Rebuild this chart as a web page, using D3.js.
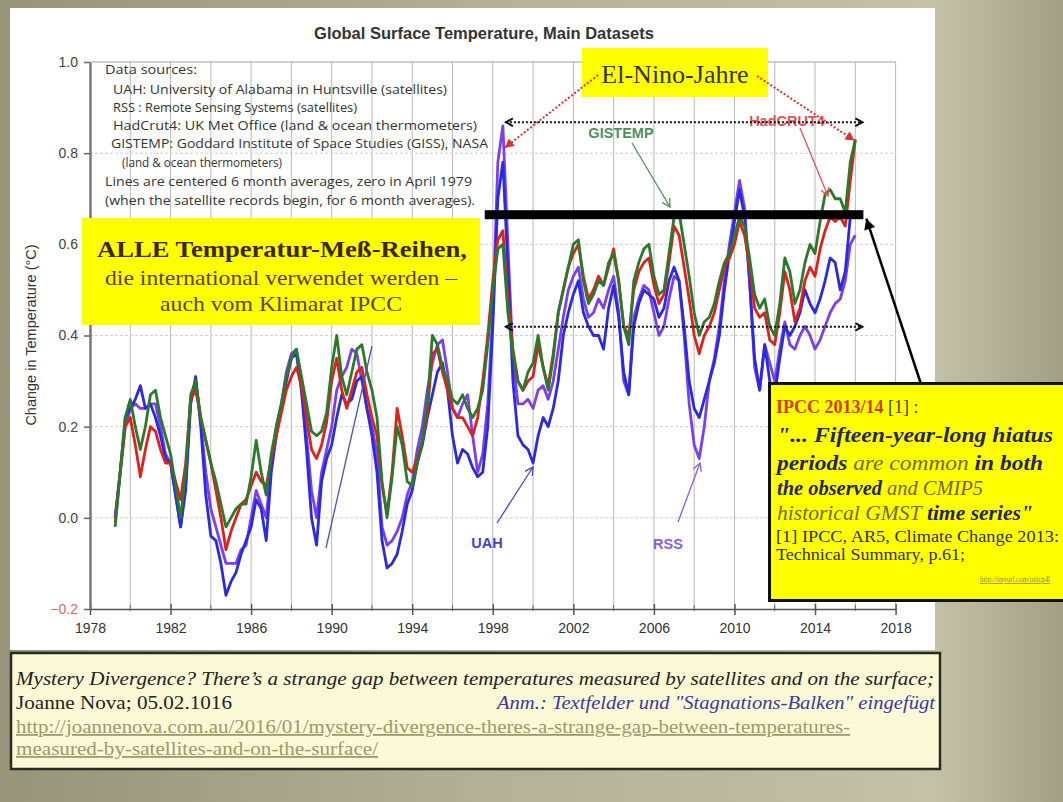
<!DOCTYPE html>
<html><head><meta charset="utf-8">
<script src="https://cdn.jsdelivr.net/npm/d3@7"></script>
<style>html,body{margin:0;padding:0;overflow:hidden;background:#a9a78b}</style>
</head><body><svg id="c" width="1063" height="802"></svg>
<script>
// ---------------- DATA ----------------
const startYear = 1979.25, stepYear = 0.25;   // centred 6-month averages, read quarterly
const gistemp = [-0.02,0.10,0.22,
 0.26,0.20,0.15,0.20, 0.27,0.28,0.22,0.18, 0.14,0.07,0.00,0.10, 0.27,0.30,0.22,0.17,
 0.12,0.08,0.03,-0.02, 0.00,0.02,0.03,0.03, 0.09,0.17,0.10,0.05, 0.14,0.20,0.25,0.31,
 0.35,0.37,0.31,0.25, 0.19,0.18,0.19,0.23, 0.33,0.40,0.31,0.27, 0.32,0.37,0.38,0.32,
 0.28,0.22,0.08,0.00, 0.09,0.20,0.16,0.08, 0.07,0.12,0.17,0.25, 0.40,0.38,0.33,0.30,
 0.26,0.25,0.27,0.24, 0.22,0.24,0.28,0.38, 0.50,0.59,0.60,0.45, 0.36,0.30,0.28,0.32,
 0.34,0.40,0.33,0.28, 0.35,0.45,0.50,0.55, 0.60,0.61,0.52,0.47, 0.49,0.52,0.51,0.56,
 0.58,0.52,0.42,0.38, 0.52,0.56,0.59,0.60, 0.53,0.49,0.50,0.58, 0.66,0.67,0.60,0.53,
 0.45,0.40,0.43,0.44, 0.47,0.52,0.56,0.58, 0.62,0.66,0.64,0.57, 0.49,0.46,0.48,0.42,
 0.40,0.47,0.57,0.54, 0.47,0.50,0.56,0.60, 0.58,0.65,0.71,0.72, 0.70,0.70,0.67,0.78,
 0.83];
const hadcrut4 = [-0.01,0.10,0.20,
 0.22,0.16,0.09,0.15, 0.20,0.19,0.15,0.12, 0.12,0.08,0.04,0.12, 0.26,0.28,0.22,0.17,
 0.12,0.06,0.00,-0.07, -0.03,0.00,0.03,0.04, 0.07,0.10,0.08,0.07, 0.13,0.18,0.23,0.28,
 0.31,0.33,0.29,0.22, 0.15,0.13,0.16,0.21, 0.30,0.35,0.28,0.24, 0.28,0.32,0.33,0.27,
 0.22,0.18,0.07,0.01, 0.10,0.24,0.18,0.11, 0.10,0.13,0.17,0.23, 0.36,0.37,0.32,0.28,
 0.24,0.22,0.22,0.20, 0.18,0.22,0.30,0.40, 0.52,0.61,0.63,0.48, 0.37,0.30,0.28,0.30,
 0.31,0.38,0.33,0.29, 0.36,0.45,0.50,0.55, 0.58,0.60,0.53,0.48, 0.50,0.53,0.51,0.55,
 0.59,0.52,0.42,0.40, 0.50,0.54,0.56,0.57, 0.51,0.47,0.49,0.56, 0.64,0.62,0.55,0.48,
 0.40,0.36,0.40,0.42, 0.45,0.50,0.55,0.57, 0.60,0.65,0.62,0.55, 0.46,0.44,0.45,0.39,
 0.38,0.45,0.54,0.50, 0.43,0.46,0.52,0.55, 0.53,0.59,0.63,0.66, 0.65,0.66,0.64,0.74,
 0.83];
const uah = [0.00,0.10,0.22,
 0.24,0.26,0.29,0.24, 0.25,0.22,0.18,0.13, 0.12,0.05,-0.02,0.06, 0.25,0.31,0.20,0.05,
 -0.04,-0.05,-0.10,-0.17, -0.14,-0.12,-0.08,-0.05, -0.02,0.04,0.02,-0.05, 0.10,0.18,0.24,0.30,
 0.35,0.36,0.28,0.15, 0.00,-0.06,0.08,0.13, 0.16,0.22,0.27,0.25, 0.26,0.30,0.31,0.24,
 0.18,0.10,-0.05,-0.11, -0.10,-0.08,-0.03,0.03, 0.06,0.12,0.16,0.22, 0.27,0.32,0.34,0.28,
 0.18,0.12,0.15,0.14, 0.11,0.09,0.10,0.20, 0.42,0.70,0.78,0.55, 0.30,0.18,0.16,0.15,
 0.12,0.18,0.22,0.20, 0.24,0.30,0.40,0.45, 0.49,0.52,0.45,0.42, 0.40,0.40,0.37,0.46,
 0.51,0.44,0.32,0.27, 0.42,0.47,0.50,0.49, 0.48,0.44,0.46,0.52, 0.55,0.52,0.42,0.30,
 0.24,0.22,0.26,0.30, 0.34,0.40,0.50,0.58, 0.65,0.72,0.66,0.52, 0.35,0.28,0.38,0.30,
 0.27,0.35,0.42,0.40, 0.42,0.45,0.50,0.47, 0.45,0.48,0.52,0.57, 0.56,0.50,0.54,0.66,
 0.67];
const rss = [0.00,0.10,0.20,
 0.24,0.25,0.24,0.24, 0.25,0.25,0.20,0.14, 0.12,0.05,-0.02,0.08, 0.26,0.30,0.21,0.10,
 0.02,-0.02,-0.06,-0.10, -0.10,-0.10,-0.07,-0.06, 0.00,0.06,0.03,0.00, 0.12,0.20,0.25,0.32,
 0.36,0.37,0.28,0.18, 0.06,0.00,0.10,0.15, 0.20,0.28,0.31,0.33, 0.37,0.36,0.30,0.24,
 0.20,0.14,-0.02,-0.06, -0.05,-0.03,0.00,0.05, 0.08,0.15,0.20,0.28, 0.34,0.38,0.39,0.32,
 0.24,0.22,0.25,0.27, 0.18,0.10,0.14,0.25, 0.45,0.78,0.86,0.60, 0.35,0.25,0.25,0.26,
 0.24,0.28,0.29,0.26, 0.30,0.37,0.44,0.50, 0.53,0.55,0.48,0.44, 0.45,0.48,0.46,0.50,
 0.53,0.45,0.30,0.27, 0.44,0.48,0.51,0.50, 0.45,0.40,0.42,0.48, 0.53,0.52,0.40,0.25,
 0.16,0.13,0.20,0.30, 0.35,0.42,0.52,0.60, 0.67,0.74,0.68,0.52, 0.33,0.28,0.38,0.34,
 0.30,0.37,0.43,0.38, 0.37,0.40,0.42,0.40, 0.37,0.39,0.42,0.45, 0.47,0.48,0.52,0.60,
 0.62];
const xTicks = [1978,1982,1986,1990,1994,1998,2002,2006,2010,2014,2018];
const yTicks = [-0.2,0.0,0.2,0.4,0.6,0.8,1.0];
const seriesNames = ["RSS","UAH","HadCRUT4","GISTEMP"];
const seriesColors = ["#7b3ff0","#2a2ae0","#e0201c","#2b7a2b"];
// annotation levels (data units)
const hiatusLevel = 0.665, hiatusFrom = 1997.6, hiatusTo = 2016.4;
const ninoTop = 0.868, ninoLow = 0.419, ninoFrom = 1998.65, ninoTo = 2016.35;

// ---------------- DRAW ----------------
const svg = d3.select("#c");
const defs = svg.append("defs");
const bg = defs.append("linearGradient").attr("id","bg").attr("x1","0").attr("x2","1").attr("y1","0").attr("y2","0");
[["0%","#979579"],["45%","#b3b195"],["88%","#c4c2a6"],["100%","#a19f84"]].forEach(s=>bg.append("stop").attr("offset",s[0]).attr("stop-color",s[1]));
svg.append("rect").attr("width",1063).attr("height",802).attr("fill","url(#bg)");
svg.append("rect").attr("x",10).attr("y",8).attr("width",925).attr("height",642).attr("fill","#ffffff");

const x = d3.scaleLinear().domain([1978,2018]).range([90,895.6]);
const y = d3.scaleLinear().domain([-0.2,1.0]).range([609,62]);
const dates = d3.range(gistemp.length).map(i => startYear + i*stepYear);

// grid
const grid = svg.append("g");
grid.selectAll("line.v").data(d3.range(1980,2019,2)).join("line")
  .attr("x1",d=>x(d)).attr("x2",d=>x(d)).attr("y1",y(1.0)).attr("y2",y(-0.2))
  .attr("stroke","#b9b9b9").attr("stroke-width",1);
grid.selectAll("line.h").data([0.0,0.2,0.4,0.6,0.8]).join("line")
  .attr("x1",x(1978)).attr("x2",x(2018)).attr("y1",d=>y(d)).attr("y2",d=>y(d))
  .attr("stroke","#cfcfcf").attr("stroke-width",1).attr("stroke-dasharray","3,2");
grid.append("line").attr("x1",x(1978)).attr("x2",x(2018)).attr("y1",y(1.0)).attr("y2",y(1.0))
  .attr("stroke","#a0a0a0").attr("stroke-width",1.2);

// axes
const xAxis = svg.append("g").attr("transform",`translate(0,${y(-0.2)})`)
  .call(d3.axisBottom(x).tickValues(xTicks).tickFormat(d3.format("d")).tickSize(6).tickSizeOuter(0));
xAxis.select(".domain").attr("stroke","#555").attr("stroke-width",1.5);
xAxis.selectAll(".tick line").attr("stroke","#555").attr("y1",-5).attr("stroke-width",1.5);
xAxis.selectAll("text").attr("font-family","Liberation Sans, Arial, sans-serif").attr("font-size",14).attr("fill","#333").attr("dy","1.05em");
svg.append("g").selectAll("line").data(d3.range(1980,2018,4)).join("line")
  .attr("x1",d=>x(d)).attr("x2",d=>x(d)).attr("y1",y(-0.2)-4).attr("y2",y(-0.2)+2).attr("stroke","#666");

const yAxis = svg.append("g").attr("transform",`translate(${x(1978)},0)`)
  .call(d3.axisLeft(y).tickValues(yTicks).tickFormat(d3.format(".1f")).tickSize(6).tickSizeOuter(0));
yAxis.select(".domain").attr("stroke","#777").attr("stroke-width",2.5);
yAxis.selectAll(".tick line").attr("stroke","#666").attr("stroke-width",1.5);
yAxis.selectAll("text").attr("font-family","Liberation Sans, Arial, sans-serif").attr("font-size",14)
  .attr("fill",d=>d<-0.1?"#d86a6a":"#444").attr("dx","-3");

svg.append("text").attr("transform","translate(36,335) rotate(-90)").attr("text-anchor","middle")
  .attr("font-family","Liberation Sans, Arial, sans-serif").attr("font-size",14.5).attr("fill","#333")
  .text("Change in Temperature (°C)");
svg.append("text").attr("x",484).attr("y",39).attr("text-anchor","middle")
  .attr("font-family","Liberation Sans, Arial, sans-serif").attr("font-weight","bold").attr("font-size",16.5).attr("fill","#333")
  .text("Global Surface Temperature, Main Datasets");

// data sources text
const src = [
 ["Data sources:",105,74,92],
 ["UAH: University of Alabama in Huntsville (satellites)",113,94,334],
 ["RSS : Remote Sensing Systems (satellites)",113,112,244],
 ["HadCrut4: UK Met Office (land & ocean thermometers)",113,130,364],
 ["GISTEMP: Goddard Institute of Space Studies (GISS), NASA",111,148,377],
 ["(land & ocean thermometers)",122,167,160],
 ["Lines are centered 6 month averages, zero in April 1979",105,186,367],
 ["(when the satellite records begin, for 6 month averages).",105,205,370]];
svg.append("g").selectAll("text").data(src).join("text")
  .attr("x",d=>d[1]).attr("y",d=>d[2]).attr("textLength",d=>d[3]).attr("lengthAdjust","spacingAndGlyphs")
  .attr("font-family","Open Sans, sans-serif").attr("font-size",12).attr("fill","#333").text(d=>d[0]);

// series lines
const line = d3.line().x((d,i)=>x(dates[i])).y(d=>y(d));
const allSeries = [rss, uah, hadcrut4, gistemp];
svg.append("g").selectAll("path").data(allSeries).join("path")
  .attr("d",d=>line(d)).attr("fill","none")
  .attr("stroke",(d,i)=>seriesColors[i]).attr("stroke-width",2.8).attr("stroke-linejoin","round");

// helpers
function head(g,x1,y1,x2,y2,color,size,filled,w){
  const a=Math.atan2(y2-y1,x2-x1), s=size, sp=0.5;
  const p1=[x2-s*Math.cos(a-sp),y2-s*Math.sin(a-sp)], p2=[x2-s*Math.cos(a+sp),y2-s*Math.sin(a+sp)];
  if(filled) g.append("path").attr("d",`M${p1}L${x2},${y2}L${p2}Z`).attr("fill",color);
  else g.append("path").attr("d",`M${p1}L${x2},${y2}L${p2}`).attr("fill","none").attr("stroke",color).attr("stroke-width",w||1.5);
}
function arrow(x1,y1,x2,y2,color,w,size,filled,dash){
  const g=svg.append("g");
  g.append("line").attr("x1",x1).attr("y1",y1).attr("x2",x2).attr("y2",y2).attr("stroke",color).attr("stroke-width",w)
   .attr("stroke-dasharray",dash||null);
  head(g,x1,y1,x2,y2,color,size,filled,w);
  return g;
}

// labels with arrows
const lab = (t,xx,yy,c)=>svg.append("text").attr("x",xx).attr("y",yy).attr("text-anchor","middle")
  .attr("font-family","Liberation Sans, Arial, sans-serif").attr("font-weight","bold").attr("font-size",14.5).attr("fill",c).text(t);
lab("GISTEMP",621,138,"#4f8f5f");
arrow(632,143,670,207,"#4f8f5f",1.3,9,false);
lab("HadCRUT4",787,126,"#d8565a");
arrow(800,128,828,196,"#d8565a",1.3,9,false);
lab("UAH",487,548,"#4545c8");
arrow(497,523,533,467,"#4545c8",1.3,9,false);
lab("RSS",668,549,"#8a5fe0");
arrow(678,522,700,463,"#8a5fe0",1.3,9,false);
svg.append("line").attr("x1",326).attr("y1",548).attr("x2",372).attr("y2",346).attr("stroke","#4a56a8").attr("stroke-width",1.3);

// dotted El-Nino range arrows
[ninoTop, ninoLow].forEach(v=>{
  const g=svg.append("g");
  g.append("line").attr("x1",x(ninoFrom)).attr("x2",x(ninoTo)).attr("y1",y(v)).attr("y2",y(v))
    .attr("stroke","#111").attr("stroke-width",2).attr("stroke-dasharray","2,2");
  head(g,x(ninoTo)-5,y(v),x(ninoTo),y(v),"#111",8,false,2);
  head(g,x(ninoFrom)+5,y(v),x(ninoFrom),y(v),"#111",8,false,2);
});

// El-Nino box
svg.append("rect").attr("x",582).attr("y",48).attr("width",186).attr("height",49).attr("fill","#ffff00");
svg.append("text").attr("x",675).attr("y",83).attr("text-anchor","middle").attr("font-family","Liberation Serif, Times New Roman, serif")
  .attr("font-size",26).attr("fill","#333").text("El-Nino-Jahre");
arrow(598,75,x(1998.6),y(0.812),"#e03030",2,10,true,"2,2");
arrow(757,76,x(2015.95),y(0.828),"#e03030",2,10,true,"2,2");

// hiatus bar
svg.append("rect").attr("x",x(hiatusFrom)).attr("y",y(hiatusLevel)-4.5).attr("width",x(hiatusTo)-x(hiatusFrom)).attr("height",9).attr("fill","#000");
arrow(921,384,x(hiatusTo)+3,y(hiatusLevel)+4,"#000",2.5,12,true);

// ALLE box
svg.append("rect").attr("x",82).attr("y",218).attr("width",398).attr("height",107).attr("fill","#ffff00");
const ser="Liberation Serif, Times New Roman, serif";
svg.append("text").attr("x",97).attr("y",257).attr("textLength",370).attr("lengthAdjust","spacingAndGlyphs")
  .attr("font-family",ser).attr("font-weight","bold").attr("font-size",23).attr("fill","#3d2505").text("ALLE Temperatur-Meß-Reihen,");
svg.append("text").attr("x",105).attr("y",285).attr("textLength",352).attr("lengthAdjust","spacingAndGlyphs")
  .attr("font-family",ser).attr("font-size",21).attr("fill","#5e4210").text("die international verwendet werden –");
svg.append("text").attr("x",160).attr("y",311).attr("textLength",242).attr("lengthAdjust","spacingAndGlyphs")
  .attr("font-family",ser).attr("font-size",21).attr("fill","#5e4210").text("auch vom Klimarat IPCC");

// IPCC box
svg.append("rect").attr("x",769.5).attr("y",383.5).attr("width",300).attr("height",217).attr("fill","#ffff00").attr("stroke","#111").attr("stroke-width",3);
const navy="#26266e", olive="#6f6a25";
const ip = svg.append("g").attr("font-family",ser);
let t=ip.append("text").attr("x",776).attr("y",413).attr("font-size",18);
t.append("tspan").attr("font-weight","bold").attr("fill","#d23c00").text("IPCC 2013/14");
t.append("tspan").attr("fill","#444").text(" [1] :");
const ipl=[
 [441.5,276,[['"... Fifteen-year-long hiatus',1]]],
 [470,266,[["periods",1],[" are common ",0],[" in both",1]]],
 [495,206,[["the observed",1],[" and CMIP5",0]]],
 [520,256,[["historical GMST",0],[" time series\"",1]]]];
ipl.forEach(r=>{
  const tt=ip.append("text").attr("x",777).attr("y",r[0]).attr("font-size",r[2].length==1?22:20.5).attr("font-style","italic")
    .attr("textLength",r[1]).attr("lengthAdjust","spacingAndGlyphs");
  r[2].forEach(s=>tt.append("tspan").attr("font-weight",s[1]?"bold":"normal").attr("fill",s[1]?navy:olive).text(s[0]));
});
ip.append("text").attr("x",776).attr("y",541.5).attr("font-size",16).attr("fill","#333").attr("textLength",283).attr("lengthAdjust","spacingAndGlyphs").text("[1]  IPCC, AR5, Climate Change 2013:");
ip.append("text").attr("x",776).attr("y",560).attr("font-size",16).attr("fill","#333").attr("textLength",189).attr("lengthAdjust","spacingAndGlyphs").text("Technical Summary, p.61;");
ip.append("text").attr("x",980).attr("y",582).attr("font-size",8).attr("fill","#8c8a4a").attr("textLength",70).attr("lengthAdjust","spacingAndGlyphs")
  .attr("text-decoration","underline").text("http://tinyurl.com/ontcp4l");

// bottom reference box
svg.append("rect").attr("x",11).attr("y",653).attr("width",929).attr("height",116).attr("fill","#fbf9d6").attr("stroke","#2a2a22").attr("stroke-width",2.5);
const bt=svg.append("g").attr("font-family",ser).attr("font-size",18);
bt.append("text").attr("x",16).attr("y",685).attr("font-style","italic").attr("fill","#222").attr("textLength",918).attr("lengthAdjust","spacingAndGlyphs")
  .text("Mystery Divergence? There’s a strange gap between temperatures measured by satellites and on the surface;");
bt.append("text").attr("x",16).attr("y",709).attr("fill","#222").attr("textLength",216).attr("lengthAdjust","spacingAndGlyphs").text("Joanne Nova; 05.02.1016");
bt.append("text").attr("x",497).attr("y",709).attr("font-style","italic").attr("fill","#3a3aa8").attr("textLength",438).attr("lengthAdjust","spacingAndGlyphs")
  .text("Anm.: Textfelder und \"Stagnations-Balken\" eingefügt");
bt.append("text").attr("x",16).attr("y",733).attr("fill","#9c9a6c").attr("textLength",834).attr("lengthAdjust","spacingAndGlyphs").attr("text-decoration","underline")
  .text("http://joannenova.com.au/2016/01/mystery-divergence-theres-a-strange-gap-between-temperatures-");
bt.append("text").attr("x",16).attr("y",755).attr("fill","#9c9a6c").attr("textLength",362).attr("lengthAdjust","spacingAndGlyphs").attr("text-decoration","underline")
  .text("measured-by-satellites-and-on-the-surface/");
</script></body></html>
